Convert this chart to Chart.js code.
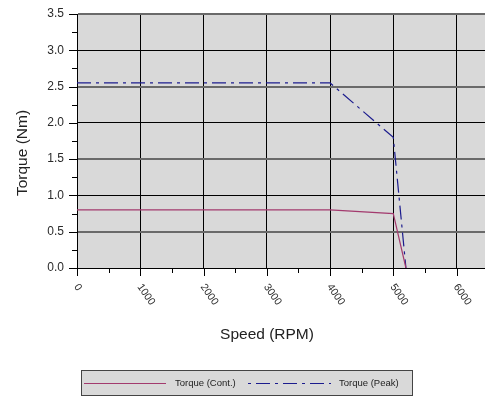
<!DOCTYPE html>
<html><head><meta charset="utf-8">
<script src="https://cdn.jsdelivr.net/npm/chart.js@4/dist/chart.umd.min.js"></script>
<style>html,body{margin:0;padding:0;background:#fff}#wrap{width:485px;height:396px;position:relative}</style>
</head><body><div id="wrap"><canvas id="c" width="485" height="396"></canvas></div>
<script>
const speedCont = [0, 4000, 5000, 5200];
const torqueCont = [0.8, 0.8, 0.75, 0];
const speedPeak = [0, 4000, 5000, 5200];
const torquePeak = [2.55, 2.55, 1.8, 0];
const xTickLabels = ["0","1000","2000","3000","4000","5000","6000"];
const yTickLabels = ["0.0","0.5","1.0","1.5","2.0","2.5","3.0","3.5"];
const seriesNames = ["Torque (Cont.)","Torque (Peak)"];
const xTitle = "Speed (RPM)";
const yTitle = "Torque (Nm)";

const FONT = "'Liberation Sans', Arial, sans-serif";
const contColor = '#a33a6e';
const peakColor = '#1c1c8e';
const peakDash = [14,5,3,5];

const pts = (xs, ys) => xs.map((x,i)=>({x, y: ys[i]}));

const bgPlugin = {
  id:'bg',
  beforeDraw(chart){
    const {ctx, chartArea:a} = chart;
    ctx.save(); ctx.fillStyle='#d9d9d9';
    ctx.fillRect(a.left, a.top, a.right-a.left, a.bottom-a.top);
    ctx.restore();
  },
  afterDraw(chart){
    const {ctx, chartArea:a, scales} = chart;
    const xs = scales.x, ys = scales.y;
    ctx.save();
    ctx.strokeStyle='#000'; ctx.lineWidth=1;
    for (let v=0; v<=3.5001; v+=0.25){
      const y = Math.round(ys.getPixelForValue(v))+0.5;
      const major = Math.abs(v*2 - Math.round(v*2))<1e-6;
      ctx.beginPath(); ctx.moveTo(a.left-(major?8:5), y); ctx.lineTo(a.left, y); ctx.stroke();
    }
    for (let v=0; v<=6000; v+=500){
      const x = Math.round(xs.getPixelForValue(v))+0.5;
      const major = v%1000===0;
      ctx.beginPath(); ctx.moveTo(x, a.bottom); ctx.lineTo(x, a.bottom+(major?8:5)); ctx.stroke();
    }
    ctx.fillStyle='#2a2a2a'; ctx.font='12px '+FONT; ctx.textAlign='right'; ctx.textBaseline='middle';
    yTickLabels.forEach(t=>{
      const y = ys.getPixelForValue(parseFloat(t));
      ctx.fillText(t, 64, y);
    });
    ctx.font='10.5px '+FONT; ctx.textAlign='left'; ctx.textBaseline='middle';
    xTickLabels.forEach(t=>{
      const x = xs.getPixelForValue(parseFloat(t));
      ctx.save(); ctx.translate(x-1, 285); ctx.rotate(55*Math.PI/180);
      ctx.fillText(t, 0, 0); ctx.restore();
    });
    ctx.font='15.5px '+FONT; ctx.textAlign='center'; ctx.textBaseline='middle'; ctx.fillStyle='#222';
    ctx.fillText(xTitle, 267, 335);
    ctx.save(); ctx.translate(23, 153); ctx.rotate(-Math.PI/2); ctx.fillText(yTitle, 0, 0); ctx.restore();
    ctx.fillStyle='#d9d9d9'; ctx.fillRect(81.5, 370.5, 331, 25);
    ctx.strokeStyle='#444'; ctx.lineWidth=1; ctx.strokeRect(81.5, 370.5, 331, 25);
    const ly = 383.5;
    ctx.strokeStyle=contColor; ctx.lineWidth=1.2;
    ctx.beginPath(); ctx.moveTo(84, ly); ctx.lineTo(166, ly); ctx.stroke();
    ctx.strokeStyle=peakColor; ctx.setLineDash(peakDash); ctx.lineDashOffset=-9;
    ctx.beginPath(); ctx.moveTo(247, ly); ctx.lineTo(331, ly); ctx.stroke();
    ctx.setLineDash([]);
    ctx.fillStyle='#222'; ctx.font='9.5px '+FONT; ctx.textAlign='left'; ctx.textBaseline='middle';
    ctx.fillText(seriesNames[0], 175, ly);
    ctx.fillText(seriesNames[1], 339, ly);
    ctx.restore();
  }
};

new Chart(document.getElementById('c'), {
  type:'scatter',
  data:{datasets:[
    {label:seriesNames[0], data:pts(speedCont, torqueCont), showLine:true, borderColor:contColor, borderWidth:1.2, pointRadius:0, fill:false, tension:0},
    {label:seriesNames[1], data:pts(speedPeak, torquePeak), showLine:true, borderColor:peakColor, borderWidth:1.2, borderDash:peakDash, pointRadius:0, fill:false, tension:0}
  ]},
  options:{
    responsive:false, animation:false, devicePixelRatio:1,
    layout:{padding:{left:0,right:0,top:14,bottom:0}},
    plugins:{legend:{display:false}, tooltip:{enabled:false}},
    scales:{
      x:{type:'linear', min:0, max:6450,
        ticks:{display:false},
        afterBuildTicks:s=>{ s.ticks = xTickLabels.map(t=>({value:parseFloat(t)})); },
        grid:{drawTicks:false, color:'#000', lineWidth:1},
        border:{display:true, color:'#000', width:1},
        afterFit:s=>{s.height=128;}
      },
      y:{type:'linear', min:0, max:3.5,
        ticks:{display:false},
        afterBuildTicks:s=>{ s.ticks = yTickLabels.map(t=>({value:parseFloat(t)})); },
        grid:{drawTicks:false,
          color:c=>{const v=c.tick?c.tick.value:0; return (Math.abs(v-Math.round(v))<1e-6)?'#000':'#6a6a6a';},
          lineWidth:c=>{const v=c.tick?c.tick.value:0; return (Math.abs(v-Math.round(v))<1e-6)?1:2;}},
        border:{display:true, color:'#000', width:1},
        afterFit:s=>{s.width=77;}
      }
    }
  },
  plugins:[bgPlugin]
});
</script></body></html>
